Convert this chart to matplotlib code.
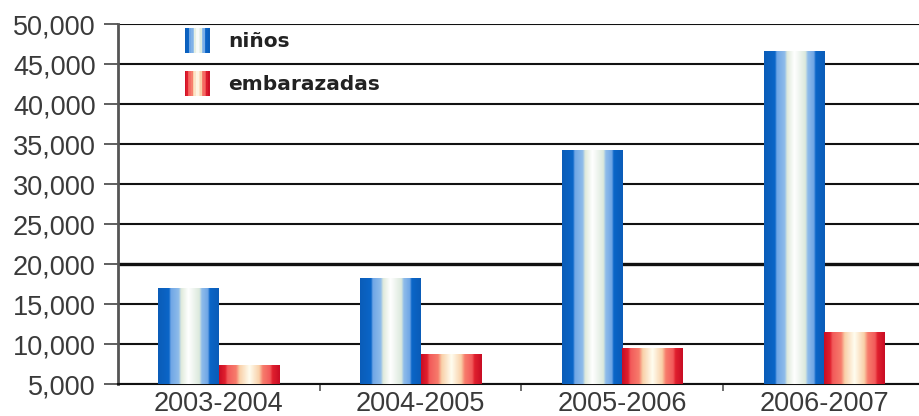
import numpy as np
import matplotlib
matplotlib.use("Agg")
import matplotlib.pyplot as plt
from matplotlib.colors import LinearSegmentedColormap
from matplotlib.legend_handler import HandlerBase
from matplotlib.patches import Rectangle

# data
periods = ["2003-2004", "2004-2005", "2005-2006", "2006-2007"]
ninos = [17000, 18200, 34200, 46600]
embarazadas = [7300, 8700, 9500, 11500]
series_names = ["niños", "embarazadas"]

# striped "glass" look of the bars
blue_cm = LinearSegmentedColormap.from_list("blu", [
    (0.0, "#0a5cb8"), (0.18, "#0b66c8"), (0.21, "#6fa6e6"), (0.34, "#8fbcea"),
    (0.38, "#dfeadb"), (0.5, "#ffffff"), (0.68, "#dbe9dc"), (0.72, "#8fbcea"),
    (0.82, "#6fa6e6"), (0.85, "#0b66c8"), (1.0, "#0a5cb8")])
red_cm = LinearSegmentedColormap.from_list("red", [
    (0.0, "#c80c24"), (0.1, "#e0202e"), (0.14, "#f25a5a"), (0.28, "#f77c6c"),
    (0.34, "#f9d0a8"), (0.5, "#fffdf0"), (0.66, "#f9d0a8"), (0.72, "#f77c6c"),
    (0.84, "#f25a5a"), (0.88, "#e0202e"), (1.0, "#c80c24")])

fig = plt.figure(figsize=(9.2, 4.16), dpi=100)
ax = fig.add_axes([118/920, 1-384/416, 807/920, 360/416])

x = np.arange(len(periods))
w = 0.3
ybot = 5000
grad = np.linspace(0, 1, 256).reshape(1, -1)

def gradient_bars(xs, vals, cmap):
    bars = ax.bar(xs, np.array(vals) - ybot, w, bottom=ybot, color="none", zorder=3)
    for b in bars:
        x0, y0 = b.get_x(), b.get_y()
        ax.imshow(grad, cmap=cmap, aspect="auto", zorder=3, interpolation="bilinear",
                  extent=[x0, x0 + b.get_width(), y0, y0 + b.get_height()])
    return bars

gradient_bars(x - w/2, ninos, blue_cm)
gradient_bars(x + w/2, embarazadas, red_cm)

ax.set_xlim(-0.5, 3.5)
ax.set_ylim(5000, 50000)
ax.set_yticks(np.arange(5000, 50001, 5000))
ax.set_yticklabels([f"{v:,}" for v in range(5000, 50001, 5000)])
ax.yaxis.grid(True, color="#111111", linewidth=1.5)
ax.set_axisbelow(True)
ax.yaxis.get_gridlines()[3].set_linewidth(2.4)

ax.set_xticks(x)
ax.set_xticklabels(periods)
ax.set_xticks(np.arange(0.5, 3.5, 1), minor=True)
ax.tick_params(axis="x", which="major", length=0, pad=5)
ax.tick_params(axis="x", which="minor", length=5, width=1.2, color="#555555")
ax.tick_params(axis="y", length=10, width=1.2, color="#444444", pad=6)
for lab in ax.get_xticklabels() + ax.get_yticklabels():
    lab.set_fontfamily("Liberation Sans")
    lab.set_fontsize(19.5)
    lab.set_color("#3a3a3a")

for s in ["top", "right"]:
    ax.spines[s].set_visible(False)
ax.spines["left"].set_color("#555555")
ax.spines["left"].set_linewidth(2)
ax.spines["bottom"].set_color("#111111")
ax.spines["bottom"].set_linewidth(1.5)


class StripeHandler(HandlerBase):
    def __init__(self, cmap):
        super().__init__()
        self.cmap = cmap

    def create_artists(self, legend, orig_handle, xdescent, ydescent, width, height, fontsize, trans):
        n = 16
        arts = []
        for i in range(n):
            r = Rectangle((-xdescent + i*width/n, -ydescent), width/n + 0.3, height,
                          facecolor=self.cmap((i + 0.5)/n), edgecolor="none", transform=trans)
            arts.append(r)
        return arts


h1 = Rectangle((0, 0), 1, 1)
h2 = Rectangle((0, 0), 1, 1)
leg = ax.legend([h1, h2], series_names, loc="upper left", bbox_to_anchor=(0.073, 1.01),
                borderaxespad=0, frameon=False,
                handler_map={h1: StripeHandler(blue_cm), h2: StripeHandler(red_cm)},
                handlelength=1.2, handleheight=1.5, handletextpad=0.95, labelspacing=0.9,
                prop={"family": "DejaVu Sans", "weight": "bold", "size": 14.5})
for t in leg.get_texts():
    t.set_color("#222222")

fig.savefig("out.png", dpi=100)
